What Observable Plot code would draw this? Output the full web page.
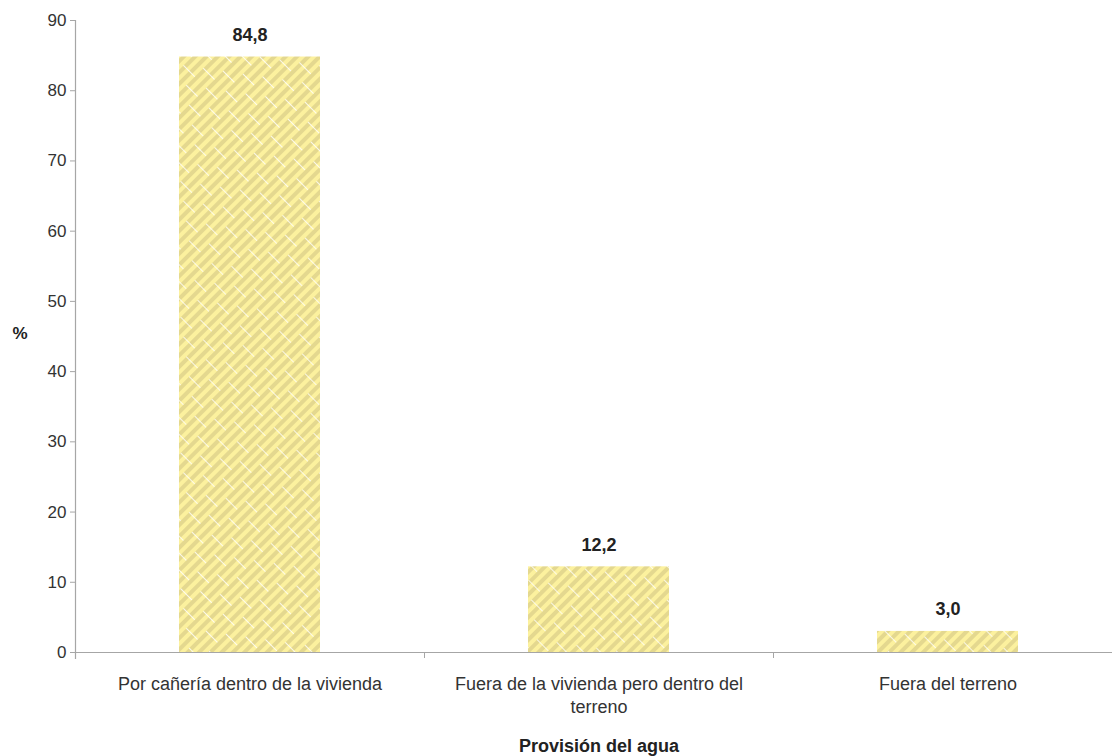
<!DOCTYPE html>
<html>
<head>
<meta charset="utf-8">
<script src="https://cdn.jsdelivr.net/npm/d3@7"></script>
<script src="https://cdn.jsdelivr.net/npm/@observablehq/plot@0.6"></script>
<style>
  html, body { margin: 0; padding: 0; background: #fff; }
</style>
</head>
<body>
<div id="chart"></div>
<script>
const categories = [
  "Por cañería dentro de la vivienda",
  "Fuera de la vivienda pero dentro del terreno",
  "Fuera del terreno"
];
const values = [84.8, 12.2, 3.0];
const valueLabels = ["84,8", "12,2", "3,0"];
const yTicks = [0, 10, 20, 30, 40, 50, 60, 70, 80, 90];
const yLabel = "%";
const xLabel = "Provisión del agua";

const data = categories.map((c, i) => ({cat: c, value: values[i], label: valueLabels[i]}));

const defs = () => {
  const ns = "http://www.w3.org/2000/svg";
  const d = document.createElementNS(ns, "defs");
  d.innerHTML = `
    <pattern id="hatch" patternUnits="userSpaceOnUse" width="32" height="24" patternTransform="rotate(45)">
      <rect x="0" y="0" width="32" height="24" fill="#fcf19e"></rect>
      <rect x="0" y="0" width="4" height="24" fill="#e4d88f"></rect>
      <rect x="8" y="0" width="4" height="24" fill="#e4d88f"></rect>
      <rect x="16" y="0" width="4" height="24" fill="#e4d88f"></rect>
      <rect x="24" y="0" width="4" height="24" fill="#e4d88f"></rect>
      <line x1="0" y1="0.5" x2="16" y2="0.5" stroke="#ffffff" stroke-width="0.8"></line>
      <line x1="16" y1="12.5" x2="32" y2="12.5" stroke="#ffffff" stroke-width="0.8"></line>
    </pattern>`;
  return d;
};

const chart = Plot.plot({
  width: 1112,
  height: 756,
  marginLeft: 75,
  marginRight: -10,
  marginTop: 20,
  marginBottom: 104,
  style: {fontFamily: "'Liberation Sans', Arial, sans-serif", fontSize: "17px", color: "#333", background: "#fff"},
  x: {domain: categories, paddingInner: 0.595, paddingOuter: 0.2975, label: null},
  y: {domain: [0, 90], label: null},
  marks: [
    defs,
    Plot.barY(data, {x: "cat", y: "value", fill: "url(#hatch)"}),
    Plot.ruleY([0], {stroke: "#a6a6a6", strokeWidth: 1.2}),
    Plot.frame({anchor: "left", stroke: "#a6a6a6", strokeWidth: 1.2, insetBottom: -6}),
    Plot.axisY({ticks: yTicks, tickSize: 5, tickPadding: 4, stroke: "#a6a6a6", fill: "#333", fontSize: 17, label: null}),
    Plot.axisX({ticks: categories.slice(1), tickSize: 6, dx: -174.5, tickFormat: () => "", stroke: "#a6a6a6", label: null}),
    Plot.axisX({tickSize: 0, tickPadding: 21, lineWidth: 18.5, lineHeight: 1.28, fill: "#333", fontSize: 18, label: null}),
    Plot.text(data, {x: "cat", y: "value", text: "label", dy: -22, fontWeight: "bold", fontSize: 18, fill: "#222"}),
    Plot.text([yLabel], {frameAnchor: "left", dx: -63, dy: -3, textAnchor: "start", fontWeight: "bold", fontSize: 17, fill: "#222"}),
    Plot.text([xLabel], {frameAnchor: "bottom", dy: 94, lineAnchor: "middle", fontWeight: "bold", fontSize: 18, fill: "#222"})
  ]
});
document.getElementById("chart").appendChild(chart);
</script>
</body>
</html>
